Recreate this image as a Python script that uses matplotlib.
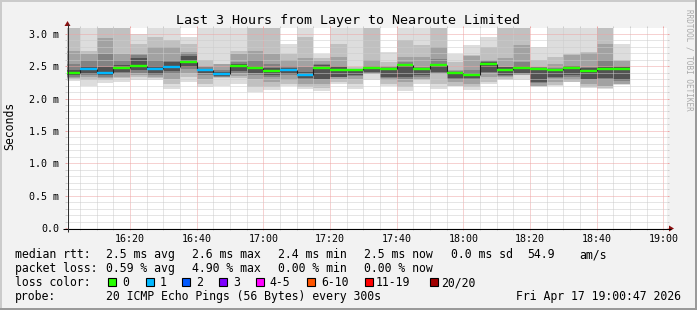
import matplotlib
matplotlib.use("Agg")
import matplotlib.pyplot as plt
from matplotlib.patches import Rectangle, Polygon
import numpy as np

plt.rcParams['font.family'] = ['DejaVu Sans Mono', 'DejaVu Sans']

W, H, DPI = 697, 310, 100

# ---------------- data ----------------
title = "Last 3 Hours from Layer to Nearoute Limited"
y_label = "Seconds"
watermark = "RRDTOOL / TOBI OETIKER"

step_times = ["16:00", "16:05", "16:10", "16:15", "16:20", "16:25", "16:30", "16:35",
              "16:40", "16:45", "16:50", "16:55", "17:00", "17:05", "17:10", "17:15",
              "17:20", "17:25", "17:30", "17:35", "17:40", "17:45", "17:50", "17:55",
              "18:00", "18:05", "18:10", "18:15", "18:20", "18:25", "18:30", "18:35",
              "18:40", "18:45"]
step_minutes = 5

median_ms = [2.39, 2.46, 2.39, 2.47, 2.50, 2.46, 2.49, 2.56, 2.44, 2.38,
             2.50, 2.47, 2.43, 2.44, 2.36, 2.47, 2.44, 2.44, 2.47, 2.46,
             2.52, 2.46, 2.52, 2.40, 2.36, 2.53, 2.44, 2.47, 2.45, 2.44,
             2.47, 2.43, 2.45, 2.45]

loss_count = [0, 1, 1, 0, 0, 1, 1, 0, 1, 1,
              0, 0, 0, 1, 1, 0, 0, 0, 0, 0,
              0, 0, 0, 0, 0, 0, 0, 0, 0, 0,
              0, 0, 0, 0]

# smoke band edges (ms), outer -> inner
smoke_hi = [
    [3.30, 3.30, 2.74, 2.54, 2.44], [3.30, 2.74, 2.69, 2.59, 2.51],
    [3.30, 3.30, 2.93, 2.69, 2.49], [3.30, 3.30, 2.69, 2.59, 2.52],
    [3.00, 2.85, 2.69, 2.67, 2.62], [3.30, 2.95, 2.79, 2.59, 2.50],
    [3.30, 2.90, 2.79, 2.59, 2.56], [2.95, 2.85, 2.72, 2.70, 2.66],
    [3.30, 2.59, 2.51, 2.48, 2.46], [3.30, 2.54, 2.53, 2.44, 2.41],
    [3.30, 2.74, 2.69, 2.56, 2.53], [3.30, 3.30, 2.74, 2.59, 2.51],
    [3.30, 3.30, 2.69, 2.54, 2.47], [2.85, 2.69, 2.59, 2.50, 2.47],
    [3.30, 2.95, 2.62, 2.49, 2.41], [2.69, 2.62, 2.58, 2.54, 2.52],
    [3.30, 2.85, 2.64, 2.51, 2.48], [3.30, 2.49, 2.46, 2.45, 2.445],
    [3.30, 3.30, 2.59, 2.51, 2.49], [2.72, 2.56, 2.50, 2.48, 2.47],
    [3.30, 2.90, 2.64, 2.56, 2.54], [3.30, 2.82, 2.64, 2.49, 2.47],
    [3.30, 3.30, 2.79, 2.61, 2.54], [2.69, 2.56, 2.44, 2.42, 2.41],
    [2.82, 2.67, 2.66, 2.44, 2.40], [2.95, 2.79, 2.59, 2.58, 2.57],
    [3.30, 3.30, 2.62, 2.49, 2.48], [3.30, 3.30, 2.82, 2.56, 2.50],
    [2.80, 2.59, 2.49, 2.48, 2.47], [3.30, 2.64, 2.54, 2.47, 2.46],
    [3.30, 2.69, 2.68, 2.51, 2.50], [3.30, 2.72, 2.71, 2.49, 2.47],
    [3.30, 3.30, 2.85, 2.59, 2.49], [2.85, 2.59, 2.58, 2.50, 2.48],
]
smoke_lo = [
    [2.27, 2.30, 2.32, 2.34, 2.36], [2.20, 2.28, 2.33, 2.36, 2.38],
    [2.24, 2.28, 2.31, 2.33, 2.36], [2.26, 2.31, 2.34, 2.38, 2.41],
    [2.28, 2.33, 2.36, 2.40, 2.44], [2.28, 2.31, 2.33, 2.36, 2.38],
    [2.15, 2.23, 2.30, 2.38, 2.42], [2.26, 2.33, 2.40, 2.46, 2.49],
    [2.18, 2.23, 2.30, 2.36, 2.39], [2.20, 2.32, 2.33, 2.34, 2.35],
    [2.23, 2.31, 2.35, 2.39, 2.42], [2.10, 2.18, 2.30, 2.37, 2.40],
    [2.13, 2.18, 2.25, 2.33, 2.36], [2.19, 2.23, 2.28, 2.36, 2.38],
    [2.14, 2.18, 2.22, 2.28, 2.31], [2.12, 2.16, 2.22, 2.28, 2.30],
    [2.23, 2.26, 2.30, 2.33, 2.34], [2.14, 2.23, 2.30, 2.35, 2.37],
    [2.28, 2.38, 2.385, 2.39, 2.41], [2.20, 2.23, 2.29, 2.31, 2.33],
    [2.12, 2.18, 2.25, 2.30, 2.33], [2.23, 2.28, 2.30, 2.34, 2.36],
    [2.15, 2.23, 2.38, 2.39, 2.41], [2.19, 2.20, 2.25, 2.29, 2.31],
    [2.13, 2.18, 2.23, 2.29, 2.31], [2.22, 2.26, 2.33, 2.39, 2.41],
    [2.28, 2.30, 2.34, 2.35, 2.36], [2.28, 2.36, 2.37, 2.38, 2.39],
    [2.18, 2.19, 2.20, 2.24, 2.26], [2.20, 2.21, 2.25, 2.31, 2.33],
    [2.25, 2.26, 2.28, 2.34, 2.36], [2.17, 2.18, 2.22, 2.28, 2.30],
    [2.15, 2.16, 2.20, 2.29, 2.31], [2.21, 2.22, 2.23, 2.27, 2.29],
]
smoke_colors = ["#dddddd", "#c0c0c0", "#a2a2a2", "#828282", "#525252"]

ytick_ms = [0.0, 0.5, 1.0, 1.5, 2.0, 2.5, 3.0]
ytick_labels = ["0.0", "0.5 m", "1.0 m", "1.5 m", "2.0 m", "2.5 m", "3.0 m"]
xtick_times = ["16:20", "16:40", "17:00", "17:20", "17:40", "18:00", "18:20", "18:40", "19:00"]
x_start_min, x_end_min = 1.1, 181.1
y_max_ms = 3.09

loss_legend_labels = ["0", "1", "2", "3", "4-5", "6-10", "11-19", "20/20"]
loss_legend_colors = ["#26ff00", "#00b8ff", "#0059ff", "#7e00ff", "#ff00ff", "#ff5500", "#ff0000", "#a10000"]
loss_color_by_count = {0: "#26ff00", 1: "#00b8ff"}

rtt_label = "median rtt:"
rtt_stats = ["2.5 ms avg", "2.6 ms max", "2.4 ms min", "2.5 ms now", "0.0 ms sd", "54.9", "am/s"]
loss_label = "packet loss:"
loss_stats = ["0.59 % avg", "4.90 % max", "0.00 % min", "0.00 % now"]
color_label = "loss color:"
probe_label = "probe:"
probe_text = "20 ICMP Echo Pings (56 Bytes) every 300s"
timestamp = "Fri Apr 17 19:00:47 2026"

# ---------------- layout / style ----------------
X0, X1, Y0, Y1 = 67, 667, 228, 28
BACK = "#f2f2f2"
GRID = "#cdcdcd"
MGRID = "#eea4a4"
ARROW = "#8b1010"
FS_TITLE, FS_AXIS, FS_LEG, FS_WM = 9.6, 7.2, 8.3, 5.5


def to_min(s):
    h, m = s.split(":")
    return (int(h) - 16) * 60 + int(m)


fig = plt.figure(figsize=(W / DPI, H / DPI), dpi=DPI)
fig.patch.set_facecolor(BACK)

bg = fig.add_axes([0, 0, 1, 1])
bg.set_xlim(0, W)
bg.set_ylim(H, 0)
bg.axis("off")
bg.set_zorder(0)

ax = fig.add_axes([X0 / W, 1 - Y0 / H, (X1 - X0) / W, (Y0 - Y1) / H])
ax.set_zorder(1)
ax.set_facecolor("white")

ov = fig.add_axes([0, 0, 1, 1])
ov.set_xlim(0, W)
ov.set_ylim(H, 0)
ov.axis("off")
ov.set_zorder(2)

# border (3D shade)
bg.add_patch(Rectangle((0, 0), W, 2, color="#cbcbcb", lw=0))
bg.add_patch(Rectangle((0, 0), 2, H, color="#cbcbcb", lw=0))
bg.add_patch(Rectangle((W - 2, 0), 2, H, color="#9a9a9a", lw=0))
bg.add_patch(Rectangle((0, H - 2), W, 2, color="#9a9a9a", lw=0))

# ---------------- plot ----------------
starts = np.array([to_min(t) for t in step_times], dtype=float)
edges = np.append(starts, starts[-1] + step_minutes)
hi = np.array(smoke_hi)
lo = np.array(smoke_lo)
for j, col in enumerate(smoke_colors):
    ax.fill_between(edges, np.append(lo[:, j], lo[-1, j]), np.append(hi[:, j], hi[-1, j]),
                    step="post", color=col, lw=0, zorder=1)

med = np.array(median_ms)
# dark vertical connectors between steps
ax.vlines(starts[1:], np.minimum(med[:-1], med[1:]), np.maximum(med[:-1], med[1:]),
          colors="#202020", lw=0.8, zorder=3)
seg_colors = [loss_color_by_count[c] for c in loss_count]
ax.hlines(med, starts, starts + step_minutes, colors=seg_colors, lw=1.7, zorder=4)

ax.set_xlim(x_start_min, x_end_min)
ax.set_ylim(0, y_max_ms)

ax.set_xticks([to_min(t) for t in xtick_times])
ax.set_xticklabels(xtick_times)
ax.set_xticks(np.arange(5, 181, 5), minor=True)
ax.set_yticks(ytick_ms)
ax.set_yticklabels(ytick_labels)
ax.set_yticks(np.arange(0.1, 3.05, 0.1), minor=True)

ax.set_axisbelow(False)
dash = (0, (1, 1))
ax.grid(which="minor", color=GRID, linestyle=dash, lw=0.72)
ax.grid(which="major", color=MGRID, linestyle=dash, lw=0.72)
for s in ax.spines.values():
    s.set_visible(False)
ax.tick_params(which="both", direction="out", length=1.44, width=0.72,
               left=True, right=True, top=True, bottom=True,
               labelleft=True, labelbottom=True, labelsize=FS_AXIS)
ax.tick_params(which="major", color=MGRID)
ax.tick_params(which="minor", color=GRID)
ax.tick_params(axis="y", pad=4.0)
ax.tick_params(axis="x", pad=3.0)

# axes lines + arrows
ov.plot([X0 - 4, X1 + 4], [Y0 + 0.5, Y0 + 0.5], color="black", lw=0.75, solid_capstyle="butt")
ov.plot([X0 + 0.5, X0 + 0.5], [Y0 + 4, Y1 - 4], color="#303030", lw=0.75, solid_capstyle="butt")
ov.add_patch(Polygon([(X1 + 2, Y0 + 0.5 - 3), (X1 + 2, Y0 + 0.5 + 3), (X1 + 7, Y0 + 0.5)],
                     closed=True, color=ARROW, lw=0))
ov.add_patch(Polygon([(X0 + 0.5 - 3, Y1 - 2), (X0 + 0.5 + 3, Y1 - 2), (X0 + 0.5, Y1 - 7)],
                     closed=True, color=ARROW, lw=0))

# ---------------- texts ----------------
bg.text(347.5, 24, title, ha="center", va="baseline", fontsize=FS_TITLE, color="black")
bg.text(10, 126, y_label, rotation=90, ha="center", va="center", fontsize=FS_LEG)
bg.text(688.5, 60, watermark, rotation=270, ha="center", va="center", fontsize=FS_WM, color="#aaaaaa")

base = [258.3, 272.2, 286.2, 300.0]
stat_x = [106.5, 192.5, 278.5, 364.3, 451.0, 527.5, 579.3]
bg.text(15.3, base[0], rtt_label, ha="left", va="baseline", fontsize=FS_LEG)
for x, s in zip(stat_x, rtt_stats):
    bg.text(x, base[0], s, ha="left", va="baseline", fontsize=FS_LEG)
bg.text(15.3, base[1], loss_label, ha="left", va="baseline", fontsize=FS_LEG)
for x, s in zip(stat_x, loss_stats):
    bg.text(x, base[1], s, ha="left", va="baseline", fontsize=FS_LEG)

bg.text(15.3, base[2], color_label, ha="left", va="baseline", fontsize=FS_LEG)
box_x = [108.3, 145.7, 182.3, 219.0, 255.7, 307.3, 365.0, 430.0]
lab_x = [121.8, 159.2, 195.8, 233.2, 269.8, 321.0, 376.0, 441.0]
for bx, lx, lab, col in zip(box_x, lab_x, loss_legend_labels, loss_legend_colors):
    bg.add_patch(Rectangle((bx, 278.3), 8, 8, facecolor=col, edgecolor="black", lw=0.8))
    bg.text(lx, base[2], lab, ha="left", va="baseline", fontsize=FS_LEG)

bg.text(15.3, base[3], probe_label, ha="left", va="baseline", fontsize=FS_LEG)
bg.text(106.5, base[3], probe_text, ha="left", va="baseline", fontsize=FS_LEG)
bg.text(680.5, base[3], timestamp, ha="right", va="baseline", fontsize=FS_LEG)

fig.savefig("out.png", dpi=DPI, facecolor=BACK)
